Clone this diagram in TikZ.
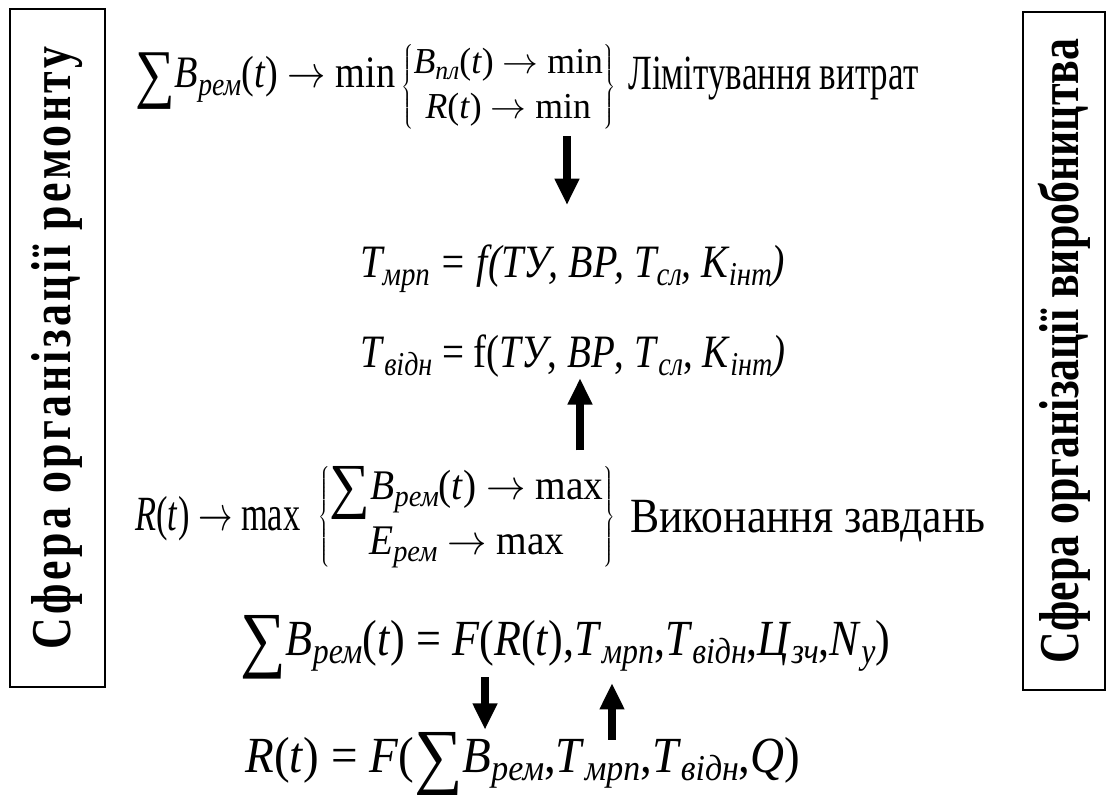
\RequirePackage{fix-cm}
\documentclass[tikz,border=0pt]{standalone}
\usepackage{fontspec}
\setmainfont{Liberation Serif}
\newfontfamily\sidefont{Liberation Serif}[FakeStretch=0.78]
\newfontfamily\sidewidefont{Liberation Serif}[FakeStretch=0.78, LetterSpace=6]
\usepackage{graphicx}
\usetikzlibrary{arrows.meta, positioning}

\newcommand{\idx}[1]{\raisebox{-0.35ex}{\scalebox{0.72}{\itshape #1}}}
\newcommand{\bsum}{\raisebox{-0.16em}{\scalebox{1.45}{∑}}}
\newcommand{\ra}{$\rightarrow$}
% squeeze a formula to a given width, keep its height
\newcommand{\fitw}[2]{\resizebox{#1}{\height}{#2}}

\tikzset{
  side/.style={draw, line width=0.45mm, rotate=90, minimum width=169.5mm, inner sep=0pt,
    font=\fontsize{40}{48}\selectfont\bfseries},
  eq/.style={inner sep=0pt, anchor=base west},
  rowA/.style={eq, font=\fontsize{32}{38}\selectfont},
  sysA/.style={inner sep=0pt, anchor=west, font=\fontsize{26}{32}\selectfont},
  rowB/.style={eq, font=\fontsize{33}{40}\selectfont},
  rowC/.style={eq, font=\fontsize{35}{42}\selectfont},
  sysC/.style={inner sep=0pt, anchor=west, font=\fontsize{30}{35.6}\selectfont},
  rowD/.style={eq, font=\fontsize{36}{43}\selectfont},
  bigarrow/.style={line width=2.2mm, -{Triangle[length=6.6mm, width=5.8mm]}},
}

\begin{document}
\begin{tikzpicture}[x=0.25mm, y=-0.25mm]
  \useasboundingbox (0,0) rectangle (1114,795);
  % side boxes
  \node[side, minimum height=23.75mm] (srem) at (57.5,348) {\sidewidefont Сфера організації ремонту};
  \node[side, minimum height=20.5mm] (svyr) at (1064,351) {\sidefont Сфера організації виробництва};

  % limits of costs
  \node[rowA] (lhs1) at (135,88) {\fitw{65mm}{\bsum\textit{B}\idx{рем}(\textit{t}) \ra{} min}};
  \node[sysA] (sys1) at (401,87)
    {\fitw{53.5mm}{$\left\{\begin{tabular}{@{}c@{}}\textit{B}\idx{пл}(\textit{t}) \ra{} min\\ \textit{R}(\textit{t}) \ra{} min\end{tabular}\right\}$}};
  \node[rowA, font=\fontsize{35}{42}\selectfont] (lbl1) at (628,90) {\fitw{72.5mm}{Лімітування витрат}};

  \node[rowB] (tmrp) at (360,278)
    {\fitw{106.25mm}{\itshape T\idx{мрп} = f(ТУ, ВР, T\idx{сл}, K\idx{інт})}};
  \node[rowB] (tvidn) at (360,368)
    {\fitw{106.25mm}{\textit{T}\idx{відн} = f(\textit{ТУ}, \textit{ВР}, \textit{T}\idx{сл}, \textit{K}\idx{інт}\textit{)}}};

  % fulfilment of tasks
  \node[rowC] (lhs2) at (135,530) {\fitw{41.25mm}{\textit{R}(\textit{t}) \ra{} max}};
  \node[sysC] (sys2) at (318,517)
    {\fitw{74.25mm}{$\left\{\begin{tabular}{@{}c@{}}\bsum\textit{B}\idx{рем}(\textit{t}) \ra{} max\\ \textit{E}\idx{рем} \ra{} max\end{tabular}\right\}$}};
  \node[rowC] (lbl2) at (630,532) {\fitw{88.75mm}{Виконання завдань}};

  \node[rowD] (sumb) at (240,655)
    {\fitw{162.5mm}{\bsum\textit{B}\idx{рем}(\textit{t}) = \textit{F}(\textit{R}(\textit{t}),\textit{T}\idx{мрп},\textit{T}\idx{відн},\textit{Ц}\idx{зч},\textit{N}\idx{y})}};
  \node[rowD] (rt) at (245,772)
    {\fitw{138.75mm}{\textit{R}(\textit{t}) = \textit{F}(\bsum\textit{B}\idx{рем},\textit{T}\idx{мрп},\textit{T}\idx{відн},\textit{Q})}};

  % arrows
  \coordinate (x1) at (567,0);
  \coordinate (x2) at (580,0);
  \coordinate (x3) at (485,0);
  \coordinate (x4) at (612,0);
  \draw[bigarrow, shorten <=1mm, shorten >=10mm] (sys1.south -| x1) -- (tmrp.north -| x1);
  \draw[bigarrow, shorten <=3.5mm, shorten >=0mm] (sys2.north -| x2) -- (tvidn.south -| x2);
  \draw[bigarrow, shorten <=-0.5mm, shorten >=0.5mm] (sumb.south -| x3) -- (rt.north -| x3);
  \draw[bigarrow, shorten <=-2mm, shorten >=1mm] (rt.north -| x4) -- (sumb.south -| x4);
\end{tikzpicture}
\end{document}
